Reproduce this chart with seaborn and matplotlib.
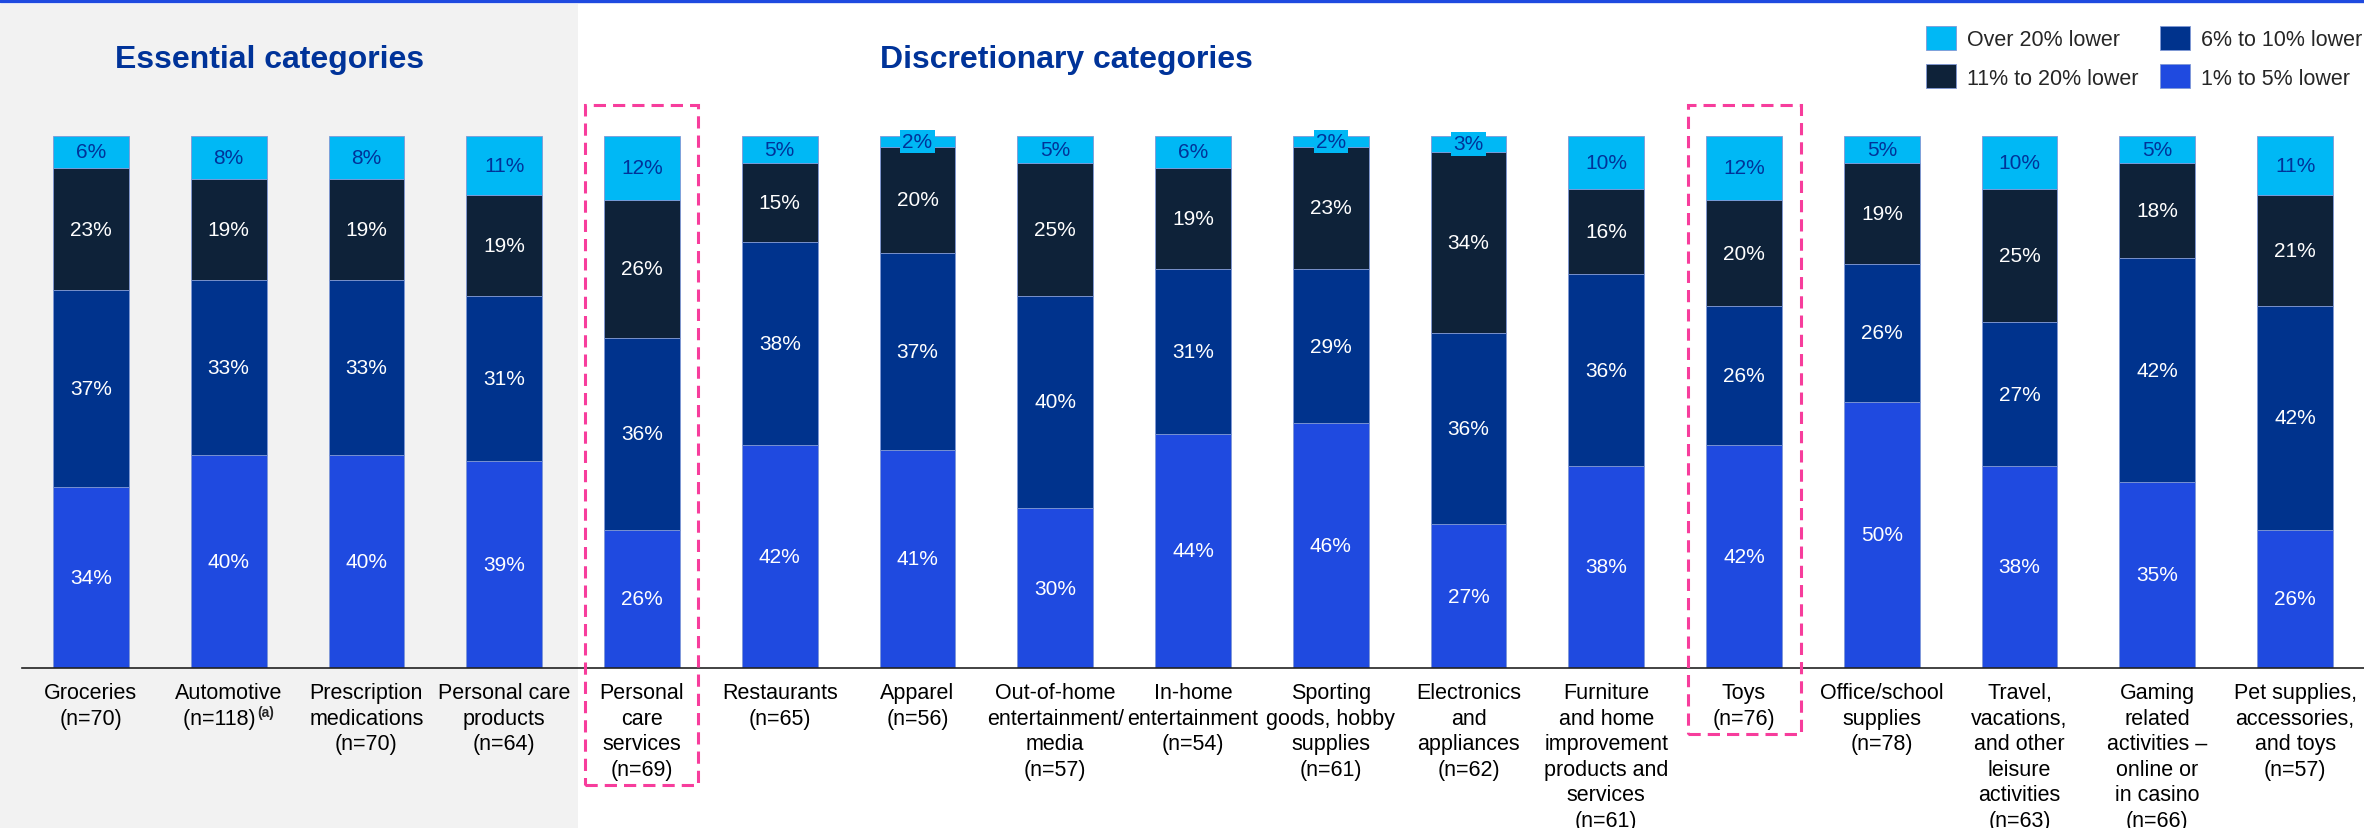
import numpy as np
import pandas as pd
import seaborn as sns
import matplotlib.pyplot as plt
from matplotlib.patches import Rectangle
from matplotlib.lines import Line2D

# --- data ---
categories = [
    "Groceries\n(n=70)",
    "Automotive\n(n=118)",
    "Prescription\nmedications\n(n=70)",
    "Personal care\nproducts\n(n=64)",
    "Personal\ncare\nservices\n(n=69)",
    "Restaurants\n(n=65)",
    "Apparel\n(n=56)",
    "Out-of-home\nentertainment/\nmedia\n(n=57)",
    "In-home\nentertainment\n(n=54)",
    "Sporting\ngoods, hobby\nsupplies\n(n=61)",
    "Electronics\nand\nappliances\n(n=62)",
    "Furniture\nand home\nimprovement\nproducts and\nservices\n(n=61)",
    "Toys\n(n=76)",
    "Office/school\nsupplies\n(n=78)",
    "Travel,\nvacations,\nand other\nleisure\nactivities\n(n=63)",
    "Gaming\nrelated\nactivities –\nonline or\nin casino\n(n=66)",
    "Pet supplies,\naccessories,\nand toys\n(n=57)",
]
over_20 = [6, 8, 8, 11, 12, 5, 2, 5, 6, 2, 3, 10, 12, 5, 10, 5, 11]
pct_11_20 = [23, 19, 19, 19, 26, 15, 20, 25, 19, 23, 34, 16, 20, 19, 25, 18, 21]
pct_6_10 = [37, 33, 33, 31, 36, 38, 37, 40, 31, 29, 36, 36, 26, 26, 27, 42, 42]
pct_1_5 = [34, 40, 40, 39, 26, 42, 41, 30, 44, 46, 27, 38, 42, 50, 38, 35, 26]
bands = ["1% to 5% lower", "6% to 10% lower", "11% to 20% lower", "Over 20% lower"]
footnotes = {1: "(a)"}  # superscript after the n= line
n_essential = 4
highlighted = [4, 12]  # Personal care services, Toys

band_colors = {
    "1% to 5% lower": "#1F4AE0",
    "6% to 10% lower": "#00338D",
    "11% to 20% lower": "#0E2239",
    "Over 20% lower": "#00B8F5",
}
title_blue = "#003399"
pink = "#F73D9C"
fs = 15.5
pad_spaces = "   "  # room kept for the superscript so the line stays centred

sns.set_theme(style="white")
plt.rcParams["font.family"] = ["Liberation Sans", "DejaVu Sans"]

W, H = 2364, 829
fig = plt.figure(figsize=(W / 100, H / 100), dpi=100)
fig.patch.set_facecolor("white")

ax = fig.add_axes([22 / W, 1 - 669 / H, 1 - 22 / W, (669 - 137) / H])
ax.set_facecolor("none")

# stacked bars, bottom band first
values = [pct_1_5, pct_6_10, pct_11_20, over_20]
bottom = np.zeros(len(categories))
for band, vals in zip(bands, values):
    vals = np.array(vals, dtype=float)
    sns.barplot(x=categories, y=vals, bottom=bottom, color=band_colors[band],
                saturation=1, width=0.55, errorbar=None, label=band, ax=ax,
                edgecolor="#7f98d6", linewidth=0.6)
    light = band == "Over 20% lower"
    for i, (v, b) in enumerate(zip(vals, bottom)):
        kw = {}
        if light and v < 4:
            kw["bbox"] = dict(facecolor=band_colors[band], edgecolor="none", pad=1.5)
        ax.text(i, b + v / 2, f"{int(v)}%", ha="center", va="center",
                fontsize=15, color=title_blue if light else "white",
                zorder=5, **kw)
    bottom = bottom + vals

handles, labels = ax.get_legend_handles_labels()
if ax.get_legend() is not None:
    ax.get_legend().remove()

shown = [c + pad_spaces if i in footnotes else c for i, c in enumerate(categories)]
ax.set_xticks(range(len(categories)), labels=shown)
ax.set_xlim(-0.5, len(categories) - 0.5)
ax.set_ylim(0, 100)
ax.set_yticks([])
ax.set_xlabel("")
ax.set_ylabel("")
for s in ["left", "top", "right"]:
    ax.spines[s].set_visible(False)
ax.spines["bottom"].set_color("#222222")
ax.spines["bottom"].set_linewidth(1.2)
ax.tick_params(axis="x", length=0, pad=10, labelsize=fs, labelcolor="black")
for t in ax.get_xticklabels():
    t.set_linespacing(1.29)

# grey panel behind the essential categories
split_x = ax.transData.transform((n_essential - 0.465, 0))[0] / W
fig.add_artist(Rectangle((0, 0), split_x, 1 - 5 / H, transform=fig.transFigure,
                         facecolor="#F2F2F2", edgecolor="none", zorder=-10))
# blue rule along the top
fig.add_artist(Line2D([0, 1], [1 - 1.5 / H] * 2, transform=fig.transFigure,
                      color="#1F4AE0", lw=2.4))

fig.text(270 / W, 1 - 60 / H, "Essential categories", ha="center", va="center",
         fontsize=23, weight="bold", color=title_blue)
fig.text(1066 / W, 1 - 60 / H, "Discretionary categories", ha="center", va="center",
         fontsize=23, weight="bold", color=title_blue)

order = [3, 2, 1, 0]
fig.legend([handles[i] for i in order], [labels[i] for i in order],
           loc="upper right", bbox_to_anchor=(2362 / W, 1 - 27 / H), ncol=2,
           frameon=False, fontsize=fs, handlelength=1.4, handleheight=1.35,
           handletextpad=0.5, columnspacing=1.0, labelspacing=0.65,
           borderpad=0, borderaxespad=0)

fig.canvas.draw()
renderer = fig.canvas.get_renderer()
inv = ax.transData.inverted()
ticklabels = ax.get_xticklabels()


def text_width(s):
    probe = fig.text(0, 0, s, fontsize=fs)
    w = probe.get_window_extent(renderer).width
    probe.remove()
    return w


# superscript footnote marks after the last tick-label line
for i, mark in footnotes.items():
    last = categories[i].split("\n")[-1]
    w_vis = text_width(last)
    w_full = text_width(last + pad_spaces)
    bb = ticklabels[i].get_window_extent(renderer)
    cx = ax.transData.transform((i, 0))[0]
    fig.text((cx - w_full / 2 + w_vis + 1) / W, (bb.y0 + 13) / H, mark,
             fontsize=10, weight="bold", ha="left", va="baseline")

# pink dashed highlight boxes around selected categories
top_y = inv.transform((0, H - 106))[1]
for i in highlighted:
    bb = ticklabels[i].get_window_extent(renderer)
    bot_y = inv.transform((0, bb.y0 - 5))[1]
    half = 0.41
    ax.add_patch(Rectangle((i - half, bot_y), 2 * half, top_y - bot_y,
                           fill=False, edgecolor=pink, lw=2.2,
                           linestyle=(0, (4, 2.3)), clip_on=False, zorder=6))

fig.savefig("out.png", dpi=100)
plt.close(fig)
